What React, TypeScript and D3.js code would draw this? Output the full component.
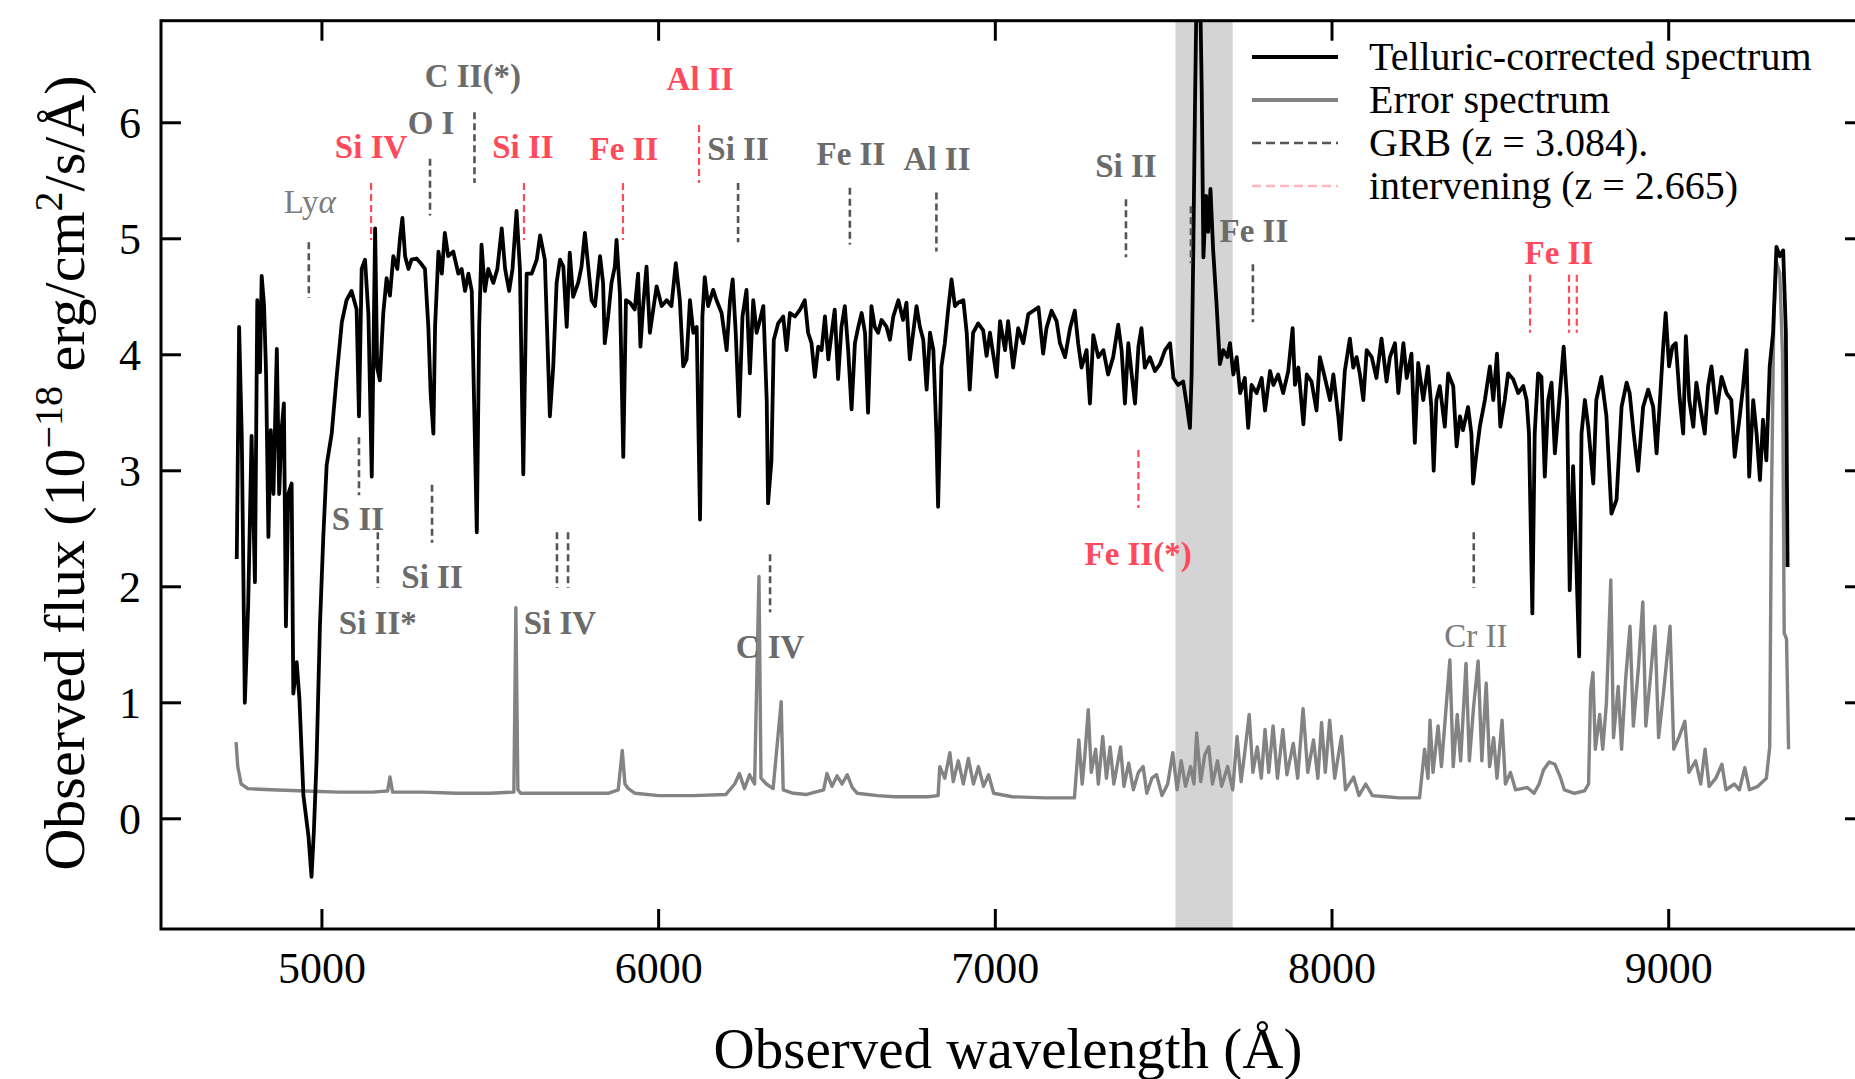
import React from "react";
import * as d3 from "d3";

// ---------- data ----------
const xTicks = [5000, 6000, 7000, 8000, 9000];
const yTicks = [0, 1, 2, 3, 4, 5, 6];
const telluricBand: [number, number] = [7535, 7705];

// Telluric-corrected spectrum [wavelength (Å), flux]
const spectrum: [number, number][] = [
  [4747, 2.24], [4754, 4.24], [4762, 3.28], [4771, 1.0], [4781, 1.85], [4791, 3.3], [4801, 2.04],
  [4808, 4.47], [4816, 3.85], [4821, 4.68], [4828, 4.43], [4834, 3.85], [4841, 2.43], [4848, 3.35],
  [4856, 2.8], [4866, 4.05], [4873, 2.8], [4880, 3.35], [4887, 3.58], [4893, 1.66], [4900, 2.8],
  [4910, 2.89], [4915, 1.08], [4925, 1.35], [4933, 1.04], [4945, 0.2], [4960, -0.15], [4969, -0.5],
  [4976, -0.11], [4984, 0.5], [4994, 1.66], [5004, 2.43], [5014, 3.05], [5029, 3.32], [5044, 3.82],
  [5059, 4.28], [5073, 4.47], [5088, 4.55], [5103, 4.39], [5110, 3.47], [5118, 4.74], [5128, 4.82],
  [5138, 4.35], [5148, 2.95], [5158, 5.09], [5164, 3.89], [5172, 3.78], [5182, 4.35], [5192, 4.66],
  [5202, 4.51], [5212, 4.85], [5224, 4.74], [5232, 5.01], [5239, 5.18], [5247, 4.85], [5257, 4.74],
  [5266, 4.82], [5281, 4.83], [5296, 4.78], [5306, 4.74], [5316, 4.24], [5323, 3.66], [5331, 3.32],
  [5336, 4.24], [5346, 4.89], [5356, 4.7], [5365, 5.05], [5375, 4.85], [5390, 4.89], [5405, 4.7],
  [5415, 4.74], [5425, 4.55], [5435, 4.7], [5445, 4.55], [5452, 3.58], [5460, 2.47], [5467, 4.24],
  [5474, 4.95], [5484, 4.55], [5494, 4.74], [5509, 4.62], [5521, 4.74], [5534, 5.09], [5544, 4.74],
  [5556, 4.55], [5566, 4.74], [5578, 5.24], [5588, 4.74], [5598, 2.97], [5608, 4.7], [5623, 4.7],
  [5638, 4.82], [5648, 5.03], [5662, 4.82], [5677, 3.47], [5687, 3.9], [5697, 4.62], [5707, 4.82],
  [5717, 4.76], [5727, 4.24], [5736, 4.88], [5746, 4.5], [5761, 4.62], [5771, 4.76], [5781, 5.05],
  [5791, 4.76], [5801, 4.47], [5811, 4.42], [5826, 4.85], [5835, 4.62], [5840, 4.1], [5850, 4.33],
  [5860, 4.62], [5870, 4.76], [5875, 4.99], [5885, 4.53], [5895, 3.12], [5903, 4.47], [5915, 4.45],
  [5929, 4.39], [5939, 4.7], [5946, 4.07], [5954, 4.42], [5964, 4.76], [5974, 4.19], [5984, 4.39],
  [5994, 4.59], [6009, 4.42], [6024, 4.47], [6038, 4.42], [6051, 4.79], [6063, 4.47], [6073, 3.9],
  [6083, 3.96], [6093, 4.47], [6103, 4.19], [6113, 4.24], [6123, 2.58], [6130, 4.33], [6137, 4.67],
  [6147, 4.42], [6162, 4.56], [6172, 4.47], [6187, 4.36], [6202, 4.04], [6212, 4.47], [6220, 4.65],
  [6229, 4.19], [6239, 3.47], [6249, 4.33], [6261, 4.56], [6271, 3.84], [6281, 4.47], [6291, 4.19],
  [6301, 4.3], [6311, 4.42], [6321, 3.61], [6325, 2.72], [6335, 3.09], [6342, 4.13], [6355, 4.27],
  [6370, 4.33], [6380, 4.04], [6390, 4.36], [6405, 4.33], [6420, 4.39], [6434, 4.47], [6444, 4.19],
  [6454, 4.1], [6464, 3.81], [6474, 4.07], [6484, 4.04], [6494, 4.33], [6504, 3.96], [6514, 4.19],
  [6523, 4.39], [6533, 3.79], [6543, 4.24], [6553, 4.42], [6563, 4.04], [6573, 3.53], [6583, 4.1],
  [6593, 4.24], [6603, 4.36], [6613, 4.19], [6622, 3.5], [6632, 4.42], [6642, 4.24], [6652, 4.19],
  [6662, 4.3], [6677, 4.24], [6687, 4.13], [6697, 4.33], [6712, 4.47], [6726, 4.3], [6736, 4.45],
  [6746, 3.96], [6756, 4.19], [6766, 4.42], [6776, 4.24], [6786, 4.13], [6796, 3.7], [6806, 4.19],
  [6816, 4.04], [6825, 3.32], [6830, 2.69], [6840, 3.9], [6850, 4.1], [6860, 4.39], [6870, 4.65],
  [6880, 4.42], [6890, 4.45], [6905, 4.47], [6915, 4.19], [6924, 3.7], [6934, 4.19], [6949, 4.27],
  [6964, 4.21], [6974, 3.99], [6984, 4.19], [7004, 3.81], [7014, 4.29], [7029, 4.04], [7038, 4.29],
  [7053, 3.89], [7068, 4.23], [7083, 4.1], [7098, 4.35], [7113, 4.38], [7128, 4.41], [7142, 4.01],
  [7152, 4.23], [7167, 4.38], [7182, 4.29], [7192, 4.1], [7207, 3.98], [7222, 4.23], [7236, 4.38],
  [7246, 4.1], [7256, 3.89], [7271, 4.04], [7281, 3.58], [7291, 4.17], [7306, 3.98], [7321, 4.04],
  [7335, 3.83], [7350, 3.98], [7365, 4.26], [7375, 4.04], [7385, 3.58], [7395, 4.1], [7405, 3.83],
  [7415, 3.58], [7425, 4.07], [7434, 4.23], [7444, 3.89], [7459, 3.98], [7474, 3.86], [7489, 3.92],
  [7504, 4.04], [7519, 4.1], [7529, 3.8], [7543, 3.74], [7558, 3.77], [7568, 3.58], [7578, 3.37],
  [7583, 3.83], [7588, 4.9], [7593, 6.14], [7598, 7.2], [7608, 7.2], [7613, 6.29], [7618, 4.84],
  [7626, 5.37], [7632, 5.06], [7639, 5.43], [7647, 4.9], [7657, 4.44], [7667, 3.92], [7677, 4.04],
  [7689, 3.98], [7697, 4.1], [7707, 3.83], [7717, 3.98], [7727, 3.67], [7741, 3.8], [7751, 3.37],
  [7761, 3.74], [7776, 3.67], [7791, 3.8], [7801, 3.52], [7816, 3.86], [7826, 3.74], [7840, 3.83],
  [7855, 3.67], [7870, 3.86], [7883, 4.23], [7890, 3.74], [7900, 3.89], [7915, 3.4], [7925, 3.83],
  [7939, 3.77], [7954, 3.52], [7964, 3.98], [7979, 3.8], [7994, 3.61], [8004, 3.83], [8019, 3.46],
  [8025, 3.27], [8038, 3.86], [8053, 4.14], [8063, 3.89], [8073, 3.98], [8083, 3.83], [8093, 3.61],
  [8103, 4.04], [8118, 3.98], [8132, 3.8], [8147, 4.14], [8162, 3.77], [8172, 3.98], [8187, 4.1],
  [8197, 3.67], [8212, 4.1], [8222, 3.8], [8236, 4.01], [8246, 3.24], [8256, 3.93], [8271, 3.61],
  [8285, 3.9], [8295, 3.55], [8302, 3.0], [8310, 3.61], [8320, 3.73], [8335, 3.38], [8345, 3.84],
  [8360, 3.73], [8370, 3.21], [8380, 3.47], [8389, 3.35], [8404, 3.55], [8414, 3.32], [8419, 2.89],
  [8429, 3.15], [8439, 3.38], [8454, 3.61], [8469, 3.9], [8479, 3.61], [8490, 4.01], [8500, 3.38],
  [8513, 3.61], [8523, 3.84], [8538, 3.79], [8553, 3.67], [8568, 3.73], [8578, 3.61], [8585, 3.32],
  [8595, 1.77], [8602, 3.32], [8612, 3.84], [8622, 3.81], [8632, 2.95], [8642, 3.61], [8652, 3.76],
  [8662, 3.15], [8675, 3.61], [8688, 4.07], [8698, 3.61], [8706, 1.97], [8716, 3.04], [8726, 2.17],
  [8734, 1.4], [8741, 3.32], [8751, 3.61], [8761, 3.38], [8776, 2.89], [8785, 3.61], [8800, 3.81],
  [8815, 3.47], [8830, 2.63], [8845, 2.75], [8860, 3.55], [8875, 3.76], [8884, 3.67], [8896, 3.32],
  [8909, 3.0], [8924, 3.55], [8939, 3.7], [8954, 3.55], [8964, 3.15], [8974, 3.61], [8983, 4.04],
  [8991, 4.36], [9001, 3.9], [9011, 4.07], [9021, 4.1], [9033, 3.61], [9043, 3.32], [9051, 4.16],
  [9061, 3.61], [9073, 3.38], [9082, 3.76], [9094, 3.55], [9107, 3.32], [9117, 3.73], [9127, 3.9],
  [9142, 3.5], [9157, 3.81], [9172, 3.67], [9186, 3.61], [9196, 3.12], [9211, 3.47], [9221, 3.73],
  [9231, 4.04], [9239, 2.95], [9251, 3.61], [9261, 3.32], [9271, 2.92], [9280, 3.44], [9290, 3.09],
  [9300, 3.9], [9310, 4.19], [9320, 4.93], [9330, 4.85], [9340, 4.9], [9348, 4.19], [9353, 2.17],
];

// Error spectrum [wavelength (Å), flux]
const errorSpectrum: [number, number][] = [
  [4745, 0.66], [4750, 0.45], [4760, 0.3], [4780, 0.26], [4850, 0.25], [4950, 0.24], [5050, 0.23],
  [5150, 0.23], [5195, 0.24], [5202, 0.36], [5210, 0.23], [5300, 0.23], [5400, 0.22], [5500, 0.22],
  [5570, 0.23], [5576, 1.82], [5582, 0.25], [5590, 0.22], [5700, 0.22], [5850, 0.22], [5880, 0.25],
  [5892, 0.59], [5900, 0.3], [5910, 0.26], [5930, 0.22], [6000, 0.2], [6100, 0.2], [6200, 0.21],
  [6226, 0.3], [6240, 0.39], [6255, 0.26], [6270, 0.38], [6285, 0.3], [6298, 2.09], [6304, 0.35],
  [6320, 0.3], [6340, 0.26], [6364, 1.01], [6370, 0.25], [6400, 0.22], [6440, 0.21], [6490, 0.25],
  [6500, 0.39], [6515, 0.28], [6530, 0.37], [6545, 0.3], [6560, 0.38], [6575, 0.27], [6590, 0.22],
  [6650, 0.2], [6700, 0.19], [6800, 0.19], [6830, 0.2], [6835, 0.45], [6850, 0.35], [6865, 0.57],
  [6875, 0.32], [6890, 0.5], [6905, 0.3], [6920, 0.52], [6935, 0.3], [6950, 0.45], [6965, 0.28],
  [6980, 0.38], [6995, 0.22], [7050, 0.19], [7150, 0.18], [7235, 0.18], [7248, 0.68], [7258, 0.3],
  [7266, 0.55], [7276, 0.94], [7285, 0.4], [7298, 0.6], [7306, 0.3], [7319, 0.71], [7330, 0.35],
  [7341, 0.62], [7352, 0.3], [7372, 0.62], [7382, 0.28], [7396, 0.48], [7410, 0.25], [7425, 0.4],
  [7439, 0.45], [7450, 0.22], [7465, 0.35], [7479, 0.38], [7495, 0.2], [7512, 0.3], [7527, 0.57],
  [7540, 0.25], [7552, 0.5], [7565, 0.28], [7580, 0.45], [7590, 0.3], [7598, 0.74], [7610, 0.32],
  [7622, 0.55], [7634, 0.62], [7645, 0.3], [7660, 0.5], [7672, 0.28], [7690, 0.45], [7705, 0.25],
  [7718, 0.71], [7730, 0.32], [7742, 0.6], [7754, 0.9], [7765, 0.4], [7778, 0.62], [7790, 0.35],
  [7801, 0.77], [7812, 0.4], [7825, 0.8], [7838, 0.35], [7854, 0.77], [7866, 0.38], [7885, 0.65],
  [7898, 0.35], [7914, 0.95], [7928, 0.4], [7945, 0.68], [7958, 0.35], [7969, 0.83], [7980, 0.4],
  [7993, 0.85], [8008, 0.35], [8028, 0.71], [8040, 0.25], [8064, 0.36], [8080, 0.2], [8100, 0.3],
  [8120, 0.2], [8160, 0.19], [8200, 0.18], [8260, 0.18], [8275, 0.6], [8285, 0.35], [8291, 0.85],
  [8300, 0.4], [8315, 0.8], [8325, 0.45], [8350, 1.37], [8360, 0.45], [8372, 0.9], [8382, 0.5],
  [8398, 1.34], [8408, 0.5], [8420, 0.95], [8434, 1.36], [8445, 0.5], [8458, 1.17], [8468, 0.45],
  [8480, 0.7], [8490, 0.35], [8505, 0.85], [8515, 0.3], [8530, 0.4], [8545, 0.25], [8580, 0.27],
  [8600, 0.22], [8615, 0.3], [8628, 0.42], [8645, 0.49], [8662, 0.47], [8678, 0.36], [8690, 0.25],
  [8720, 0.22], [8750, 0.24], [8762, 0.3], [8768, 1.1], [8775, 1.26], [8782, 0.6], [8795, 0.9],
  [8804, 0.6], [8815, 1.0], [8828, 2.06], [8836, 0.7], [8850, 1.14], [8860, 0.6], [8872, 1.2],
  [8885, 1.66], [8895, 0.8], [8910, 1.3], [8923, 1.87], [8932, 0.8], [8945, 1.2], [8959, 1.66],
  [8970, 0.7], [8985, 1.1], [9004, 1.66], [9015, 0.6], [9030, 0.7], [9048, 0.84], [9060, 0.4],
  [9080, 0.5], [9095, 0.3], [9108, 0.6], [9120, 0.28], [9140, 0.35], [9158, 0.47], [9170, 0.25],
  [9195, 0.3], [9210, 0.25], [9226, 0.44], [9240, 0.25], [9265, 0.28], [9290, 0.35], [9300, 0.62],
  [9305, 2.7], [9312, 4.3], [9320, 4.8], [9330, 4.7], [9338, 4.0], [9343, 1.6], [9350, 1.55],
  [9356, 0.6],
];

// GRB (z = 3.084) line markers: wavelength, top flux, bottom flux
const grbMarkers: [number, number, number][] = [
  [4961, 4.97, 4.49], [5321, 5.69, 5.2], [5453, 6.09, 5.48], [6236, 5.48, 4.97],
  [6568, 5.44, 4.95], [6825, 5.4, 4.89], [7388, 5.34, 4.84], [7581, 5.28, 4.79],
  [7765, 4.78, 4.28], [5110, 3.29, 2.79], [5166, 2.47, 1.99], [5327, 2.88, 2.38],
  [5698, 2.47, 1.99], [5731, 2.47, 1.99], [6331, 2.28, 1.78], [8421, 2.47, 1.99],
];

// Intervening (z = 2.665) line markers
const interveningMarkers: [number, number, number][] = [
  [5146, 5.48, 4.99], [5600, 5.48, 4.99], [5894, 5.48, 4.99], [6120, 5.98, 5.48],
  [7425, 3.18, 2.68], [8588, 4.69, 4.19], [8704, 4.69, 4.19], [8727, 4.69, 4.19],
];

// Labels: text, centre wavelength, baseline flux, kind
const grbLabels: [string, number, number, string][] = [
  ["Lyα", 4964, 5.22, "light"],
  ["C II(*)", 5448, 6.31, "bold"],
  ["O I", 5324, 5.9, "bold"],
  ["Si II", 6236, 5.68, "bold"],
  ["Fe II", 6571, 5.64, "bold"],
  ["Al II", 6827, 5.59, "bold"],
  ["Si II", 7388, 5.53, "bold"],
  ["Fe II", 7768, 4.97, "bold"],
  ["S II", 5107, 2.49, "bold"],
  ["Si II*", 5166, 1.59, "bold"],
  ["Si II", 5327, 1.99, "bold"],
  ["Si IV", 5707, 1.59, "bold"],
  ["C IV", 6331, 1.39, "bold"],
  ["Cr II", 8427, 1.48, "light"],
];
const interveningLabels: [string, number, number][] = [
  ["Si IV", 5146, 5.7],
  ["Si II", 5597, 5.7],
  ["Fe II", 5897, 5.68],
  ["Al II", 6123, 6.28],
  ["Fe II(*)", 7424, 2.19],
  ["Fe II", 8674, 4.78],
];

const legendLabels = [
  "Telluric-corrected spectrum",
  "Error spectrum",
  "GRB (z = 3.084).",
  "intervening (z = 2.665)",
];

// ---------- drawing ----------
const W = 1855;
const H = 1079;
const PL = 161, PR = 1865, PT = 20.7, PB = 929;
const FONT = "'Liberation Serif', 'Times New Roman', serif";
const RED = "#ff4a5c";
const GRAY_TXT = "#6b6b6b";

export default function App() {
  const x = d3.scaleLinear().domain([4522, 9583]).range([PL, PR]);
  const y = d3.scaleLinear().domain([-0.95, 6.88]).range([PB, PT]);
  const line = d3
    .line<[number, number]>()
    .x((d) => x(d[0]))
    .y((d) => y(d[1]));

  const legendY = [57, 100, 143, 186];

  return (
    <svg
      width={W}
      height={H}
      style={{ position: "absolute", left: 0, top: 0, background: "#fff" }}
      fontFamily={FONT}
    >
      <defs>
        <clipPath id="plotClip">
          <rect x={PL} y={PT} width={PR - PL} height={PB - PT} />
        </clipPath>
      </defs>
      <rect x={0} y={0} width={W} height={H} fill="#fff" />

      {/* telluric band */}
      <rect
        x={x(telluricBand[0])}
        y={PT}
        width={x(telluricBand[1]) - x(telluricBand[0])}
        height={PB - PT}
        fill="#d4d4d4"
      />

      <g clipPath="url(#plotClip)">
        <path d={line(errorSpectrum) || ""} fill="none" stroke="#838383" strokeWidth={3.4} strokeLinejoin="round" />
        <path d={line(spectrum) || ""} fill="none" stroke="#000" strokeWidth={3.8} strokeLinejoin="round" />
      </g>

      {/* markers */}
      {grbMarkers.map((m, i) => (
        <line key={"g" + i} x1={x(m[0])} x2={x(m[0])} y1={y(m[1])} y2={y(m[2])}
          stroke="#555" strokeWidth={2.6} strokeDasharray="7,4" />
      ))}
      {interveningMarkers.map((m, i) => (
        <line key={"r" + i} x1={x(m[0])} x2={x(m[0])} y1={y(m[1])} y2={y(m[2])}
          stroke={RED} strokeWidth={2.2} strokeDasharray="7,4" />
      ))}

      {/* labels */}
      {grbLabels.map((l, i) => (
        <text key={"gl" + i} x={x(l[1])} y={y(l[2])} textAnchor="middle" fontSize={33}
          fontWeight={l[3] === "bold" ? "bold" : "normal"}
          fill={l[3] === "bold" ? GRAY_TXT : "#7c7c7c"}>
          {l[0] === "Lyα" ? (<>Ly<tspan fontStyle="italic">α</tspan></>) : l[0]}
        </text>
      ))}
      {interveningLabels.map((l, i) => (
        <text key={"rl" + i} x={x(l[1])} y={y(l[2])} textAnchor="middle" fontSize={33}
          fontWeight="bold" fill={RED}>
          {l[0]}
        </text>
      ))}

      {/* frame */}
      <rect x={PL} y={PT} width={PR - PL} height={PB - PT} fill="none" stroke="#000" strokeWidth={3} />

      {/* ticks */}
      {xTicks.map((t) => (
        <g key={"xt" + t}>
          <line x1={x(t)} x2={x(t)} y1={PB} y2={PB - 20} stroke="#000" strokeWidth={3} />
          <line x1={x(t)} x2={x(t)} y1={PT} y2={PT + 20} stroke="#000" strokeWidth={3} />
          <text x={x(t)} y={983} textAnchor="middle" fontSize={44} fill="#000">{t}</text>
        </g>
      ))}
      {yTicks.map((t) => (
        <g key={"yt" + t}>
          <line x1={PL} x2={PL + 20} y1={y(t)} y2={y(t)} stroke="#000" strokeWidth={3} />
          <line x1={PR} x2={PR - 20} y1={y(t)} y2={y(t)} stroke="#000" strokeWidth={3} />
          <text x={141} y={y(t)} dy="0.35em" textAnchor="end" fontSize={44} fill="#000">{t}</text>
        </g>
      ))}

      {/* axis titles */}
      <text x={1008} y={1068} textAnchor="middle" fontSize={57} fill="#000">
        Observed wavelength (Å)
      </text>
      <text transform="translate(84,473) rotate(-90)" textAnchor="middle" fontSize={58} fill="#000">
        Observed flux (10
        <tspan baselineShift="super" fontSize={40}>−18</tspan>
        <tspan> erg/cm</tspan>
        <tspan baselineShift="super" fontSize={40}>2</tspan>
        <tspan>/s/Å)</tspan>
      </text>

      {/* legend */}
      <line x1={1252} x2={1338} y1={legendY[0]} y2={legendY[0]} stroke="#000" strokeWidth={4} />
      <line x1={1252} x2={1338} y1={legendY[1]} y2={legendY[1]} stroke="#838383" strokeWidth={4} />
      <line x1={1252} x2={1338} y1={legendY[2]} y2={legendY[2]} stroke="#555" strokeWidth={2.6} strokeDasharray="9,5" />
      <line x1={1252} x2={1338} y1={legendY[3]} y2={legendY[3]} stroke="#ffb6bd" strokeWidth={2.6} strokeDasharray="9,5" />
      {legendLabels.map((s, i) => (
        <text key={"lg" + i} x={1369} y={legendY[i] + 13} fontSize={40} fill="#000">{s}</text>
      ))}
    </svg>
  );
}
